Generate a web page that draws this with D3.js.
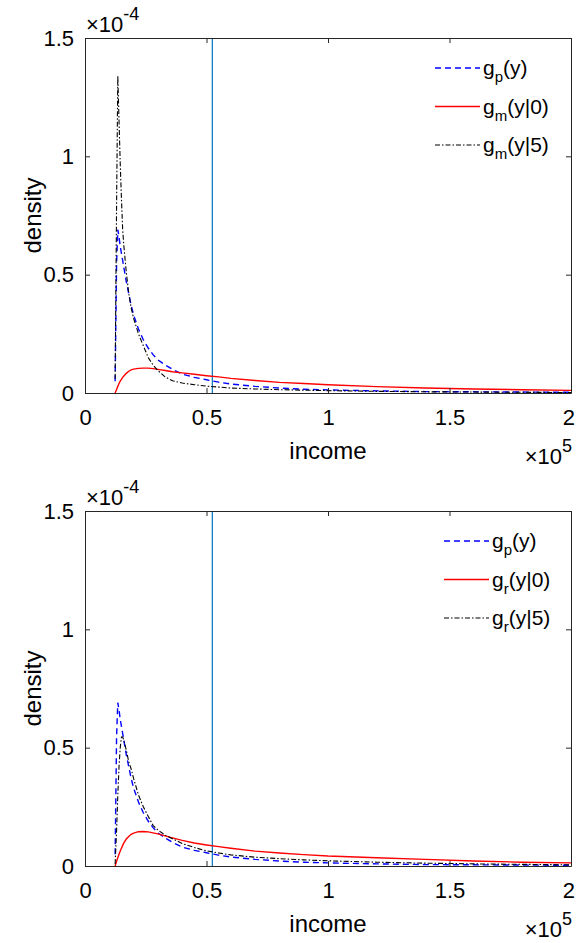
<!DOCTYPE html>
<html>
<head>
<meta charset="utf-8">
<script src="https://cdn.jsdelivr.net/npm/d3@7/dist/d3.min.js"></script>
<style>
body { margin: 0; background: #ffffff; }
svg { font-family: "Liberation Sans", Arial, Helvetica, sans-serif; }
</style>
</head>
<body>
<div id="chart"></div>
<script>
// income grid (same for all curves)
const income = [12400, 13000, 13500, 14000, 14500, 15000, 15500, 16000, 17000, 18000, 19000, 20000,
    22000, 24000, 26000, 28000, 30000, 33000, 36000, 40000, 45000, 50000, 55000, 60000,
    70000, 80000, 90000, 100000, 120000, 140000, 160000, 180000, 200000]

// densities, in units of 1e-4
const gp = [0.05, 0.55, 0.69, 0.66, 0.62, 0.59, 0.56, 0.53, 0.47, 0.42, 0.37, 0.33,
    0.27, 0.225, 0.19, 0.162, 0.14, 0.118, 0.1, 0.08, 0.066, 0.056, 0.046, 0.038,
    0.028, 0.021, 0.016, 0.013, 0.009, 0.006, 0.005, 0.004, 0.003]
const gm0 = [0, 0.015, 0.028, 0.04, 0.05, 0.058, 0.066, 0.072, 0.083, 0.092, 0.098, 0.101,
    0.104, 0.105, 0.105, 0.103, 0.1, 0.095, 0.09, 0.085, 0.079, 0.073, 0.068, 0.062,
    0.053, 0.045, 0.04, 0.035, 0.027, 0.021, 0.017, 0.014, 0.011]
const gm5 = [0.06, 0.8, 1.34, 1.15, 0.97, 0.82, 0.69, 0.62, 0.51, 0.42, 0.36, 0.315,
    0.25, 0.2, 0.15, 0.118, 0.095, 0.068, 0.052, 0.042, 0.035, 0.029, 0.025, 0.021,
    0.017, 0.014, 0.012, 0.01, 0.007, 0.005, 0.004, 0.003, 0.002]
const gr0 = [0, 0.02, 0.035, 0.05, 0.063, 0.075, 0.087, 0.098, 0.114, 0.125, 0.134, 0.139,
    0.145, 0.146, 0.144, 0.14, 0.136, 0.127, 0.119, 0.108, 0.097, 0.089, 0.082, 0.075,
    0.063, 0.055, 0.048, 0.042, 0.035, 0.028, 0.021, 0.016, 0.013]
const gr5 = [0.008, 0.15, 0.3, 0.42, 0.5, 0.545, 0.545, 0.53, 0.49, 0.44, 0.41, 0.37,
    0.3, 0.25, 0.21, 0.172, 0.152, 0.13, 0.115, 0.095, 0.078, 0.064, 0.055, 0.047,
    0.037, 0.031, 0.026, 0.022, 0.016, 0.012, 0.009, 0.007, 0.005]

const cutoff = 52400
const xTicks = [0, 50000, 100000, 150000, 200000]
const xTickLabels = ['0', '0.5', '1', '1.5', '2']
const yTicks = [0, 0.5, 1, 1.5]
const yTickLabels = ['0', '0.5', '1', '1.5']

const w = 576, h = 943
const axisColor = '#262626'
const fs = 22   // tick font size

const svg = d3.select('#chart').append('svg')
    .attr('width', w)
    .attr('height', h)

const x = d3.scaleLinear().domain([0, 200000]).range([85, 571])

function drawPanel(top, series, legendX) {
    const y = d3.scaleLinear().domain([0, 1.5]).range([top + 355, top])
    const g = svg.append('g')

    g.append('line')
        .attr('x1', x(cutoff)).attr('x2', x(cutoff))
        .attr('y1', y(0)).attr('y2', y(1.5))
        .attr('stroke', '#0072BD')
        .attr('stroke-width', 1.2)

    const line = d3.line()
        .x((d, i) => x(income[i]))
        .y(d => y(d))

    series.forEach(s => {
        g.append('path')
            .datum(s.values)
            .attr('d', line)
            .attr('fill', 'none')
            .attr('stroke', s.color)
            .attr('stroke-width', s.width)
            .attr('stroke-dasharray', s.dash)
    })

    // axes, ticks pointing inwards
    const fmtX = (d, i) => xTickLabels[i]
    const fmtY = (d, i) => yTickLabels[i]
    const bottom = g.append('g')
        .attr('transform', `translate(0,${y(0)})`)
        .call(d3.axisBottom(x).tickValues(xTicks).tickFormat(fmtX).tickSizeInner(-5).tickSizeOuter(0).tickPadding(16))
    const topAx = g.append('g')
        .attr('transform', `translate(0,${y(1.5)})`)
        .call(d3.axisTop(x).tickValues(xTicks).tickFormat('').tickSizeInner(-5).tickSizeOuter(0))
    const left = g.append('g')
        .attr('transform', `translate(${x(0)},0)`)
        .call(d3.axisLeft(y).tickValues(yTicks).tickFormat(fmtY).tickSizeInner(-5).tickSizeOuter(0).tickPadding(11))
    const right = g.append('g')
        .attr('transform', `translate(${x(200000)},0)`)
        .call(d3.axisRight(y).tickValues(yTicks).tickFormat('').tickSizeInner(-5).tickSizeOuter(0))

    ;[bottom, topAx, left, right].forEach(a => {
        a.select('.domain').attr('stroke', axisColor).attr('stroke-width', 1)
        a.selectAll('.tick line').attr('stroke', axisColor)
        a.selectAll('text').attr('fill', '#000').style('font-size', fs + 'px').style('font-family', null)
    })
    // keep the last label inside the page
    bottom.selectAll('.tick').filter((d, i, n) => i === n.length - 1)
        .select('text').attr('text-anchor', 'end').attr('x', 3.5)

    // axis labels
    g.append('text')
        .attr('x', (x(0) + x(200000)) / 2)
        .attr('y', y(0) + 66)
        .attr('text-anchor', 'middle')
        .style('font-size', '24px')
        .text('income')
    g.append('text')
        .attr('transform', `translate(41,${(y(0) + y(1.5)) / 2}) rotate(-90)`)
        .attr('text-anchor', 'middle')
        .style('font-size', '24px')
        .text('density')

    // exponent labels
    const ex = g.append('text')
        .attr('x', 572)
        .attr('y', y(0) + 71)
        .attr('text-anchor', 'end')
        .style('font-size', fs + 'px')
    ex.append('tspan').text('\u00d710')
    ex.append('tspan').attr('dy', -12).style('font-size', '18px').text('5')

    const ey = g.append('text')
        .attr('x', 86)
        .attr('y', top - 6)
        .style('font-size', fs + 'px')
    ey.append('tspan').text('\u00d710')
    ey.append('tspan').attr('dy', -12).style('font-size', '18px').text('-4')

    // legend
    series.forEach((s, i) => {
        const ly = top + 30 + i * 38.5
        g.append('line')
            .attr('x1', legendX).attr('x2', legendX + 45)
            .attr('y1', ly).attr('y2', ly)
            .attr('stroke', s.color)
            .attr('stroke-width', s.width)
            .attr('stroke-dasharray', s.dash)
        const t = g.append('text')
            .attr('x', legendX + 48)
            .attr('y', ly + 7)
            .style('font-size', '21px')
        t.append('tspan').text('g')
        t.append('tspan').attr('dy', 7).style('font-size', '15px').text(s.sub)
        t.append('tspan').attr('dy', -7).text(s.arg)
    })
}

drawPanel(38, [
    { values: gp, color: '#0000ff', width: 1.4, dash: '6,4', sub: 'p', arg: '(y)' },
    { values: gm0, color: '#ff0000', width: 1.4, dash: null, sub: 'm', arg: '(y|0)' },
    { values: gm5, color: '#000000', width: 1.1, dash: '5,2,1.5,2', sub: 'm', arg: '(y|5)' }
], 435)

drawPanel(511, [
    { values: gp, color: '#0000ff', width: 1.4, dash: '6,4', sub: 'p', arg: '(y)' },
    { values: gr0, color: '#ff0000', width: 1.4, dash: null, sub: 'r', arg: '(y|0)' },
    { values: gr5, color: '#000000', width: 1.1, dash: '5,2,1.5,2', sub: 'r', arg: '(y|5)' }
], 444)
</script>
</body>
</html>
